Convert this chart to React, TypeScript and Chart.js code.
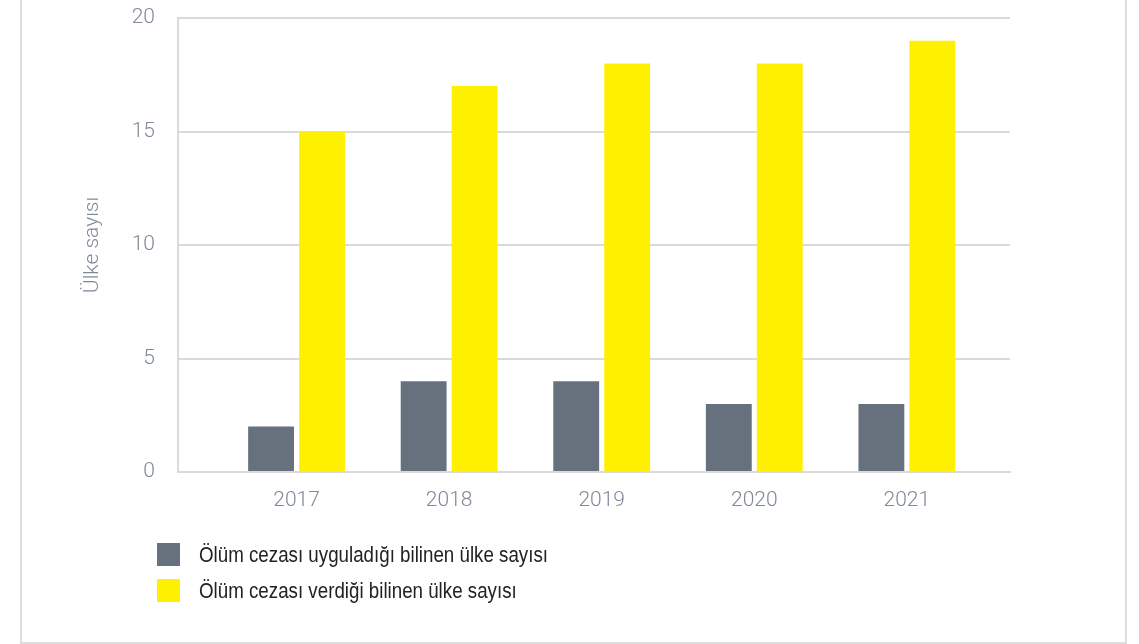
import React, { useEffect, useRef } from "react";
import { Chart, registerables } from "chart.js";

Chart.register(...registerables);

const categories: string[] = ["2017", "2018", "2019", "2020", "2021"];
const executedCountries: number[] = [2, 4, 4, 3, 3];
const sentencedCountries: number[] = [15, 17, 18, 18, 19];
const seriesLabels: string[] = [
  "Ölüm cezası uyguladığı bilinen ülke sayısı",
  "Ölüm cezası verdiği bilinen ülke sayısı",
];
const seriesColors: string[] = ["#67717e", "#fff000"];
const yTicks: number[] = [0, 5, 10, 15, 20];
const yTitle = "Ülke sayısı";

const TICK_COLOR = "#7f8998";
const GRID_COLOR = "#dadada";
const LIGHT_FONT = "Roboto, 'Liberation Sans', Arial, sans-serif";

export default function App() {
  const canvasRef = useRef<HTMLCanvasElement | null>(null);

  useEffect(() => {
    const canvas = canvasRef.current;
    if (!canvas) return;
    const series = [executedCountries, sentencedCountries];
    const chart = new Chart(canvas, {
      type: "bar",
      data: {
        datasets: series.map((vals, si) => ({
          label: seriesLabels[si],
          data: vals.map((v, i) => ({ x: i, y: v })),
          backgroundColor: seriesColors[si],
          borderWidth: 0,
          categoryPercentage: 0.668,
          barPercentage: 0.9,
        })),
      },
      options: {
        responsive: false,
        animation: false,
        layout: { padding: { left: 0, right: 129, top: 18, bottom: 0 } },
        plugins: {
          legend: { display: false },
          tooltip: { enabled: false },
        },
        scales: {
          x: {
            type: "linear",
            offset: false,
            min: -0.777,
            max: 4.676,
            afterBuildTicks: (scale: any) => {
              scale.ticks = categories.map((_, i) => ({ value: i }));
            },
            afterFit: (scale: any) => {
              scale.height = 644 - 472;
              scale.paddingLeft = 0;
              scale.paddingRight = 0;
            },
            grid: { display: false, drawTicks: false },
            border: { display: true, color: GRID_COLOR, width: 2 },
            ticks: {
              autoSkip: false,
              maxRotation: 0,
              padding: 16,
              color: TICK_COLOR,
              font: { family: LIGHT_FONT, size: 21, weight: "300" },
              callback: (v: any) => categories[Math.round(Number(v))] ?? "",
            },
          },
          y: {
            type: "linear",
            min: 0,
            max: 20,
            afterBuildTicks: (scale: any) => {
              scale.ticks = yTicks.map((v) => ({ value: v }));
            },
            afterFit: (scale: any) => {
              scale.width = 178;
              scale.paddingTop = 0;
              scale.paddingBottom = 0;
            },
            grid: { color: GRID_COLOR, lineWidth: 2, drawTicks: false },
            border: { display: true, color: GRID_COLOR, width: 2 },
            ticks: {
              padding: 23,
              color: TICK_COLOR,
              font: { family: LIGHT_FONT, size: 21, weight: "300" },
            },
            title: {
              display: true,
              text: yTitle,
              color: TICK_COLOR,
              padding: { top: 80, bottom: 0 },
              font: { family: LIGHT_FONT, size: 21, weight: "300", lineHeight: 1.2 },
            },
          },
        },
      },
    });
    return () => chart.destroy();
  }, []);

  return (
    <div style={{ position: "absolute", left: 0, top: 0, width: 1139, height: 644, overflow: "hidden", background: "#ffffff" }}>
      <div
        style={{
          position: "absolute",
          left: 20,
          top: -10,
          width: 1107,
          height: 654,
          border: "2px solid #dedede",
          boxSizing: "border-box",
        }}
      />
      <canvas
        ref={canvasRef}
        width={1139}
        height={644}
        style={{ position: "absolute", left: 0, top: 0, width: 1139, height: 644 }}
      />
      <div style={{ position: "absolute", left: 157, top: 543 }}>
        {seriesLabels.map((lbl, i) => (
          <div
            key={lbl}
            style={{ display: "flex", alignItems: "center", height: 23, marginBottom: 13 }}
          >
            <span
              style={{ display: "inline-block", width: 23, height: 23, background: seriesColors[i], marginRight: 19, flex: "none" }}
            />
            <span
              style={{
                display: "inline-block",
                fontFamily: "'Liberation Sans', Arial, sans-serif",
                fontSize: 22,
                lineHeight: "23px",
                color: "#222222",
                whiteSpace: "nowrap",
                transform: "scaleX(0.852)",
                transformOrigin: "left center",
              }}
            >
              {lbl}
            </span>
          </div>
        ))}
      </div>
    </div>
  );
}
